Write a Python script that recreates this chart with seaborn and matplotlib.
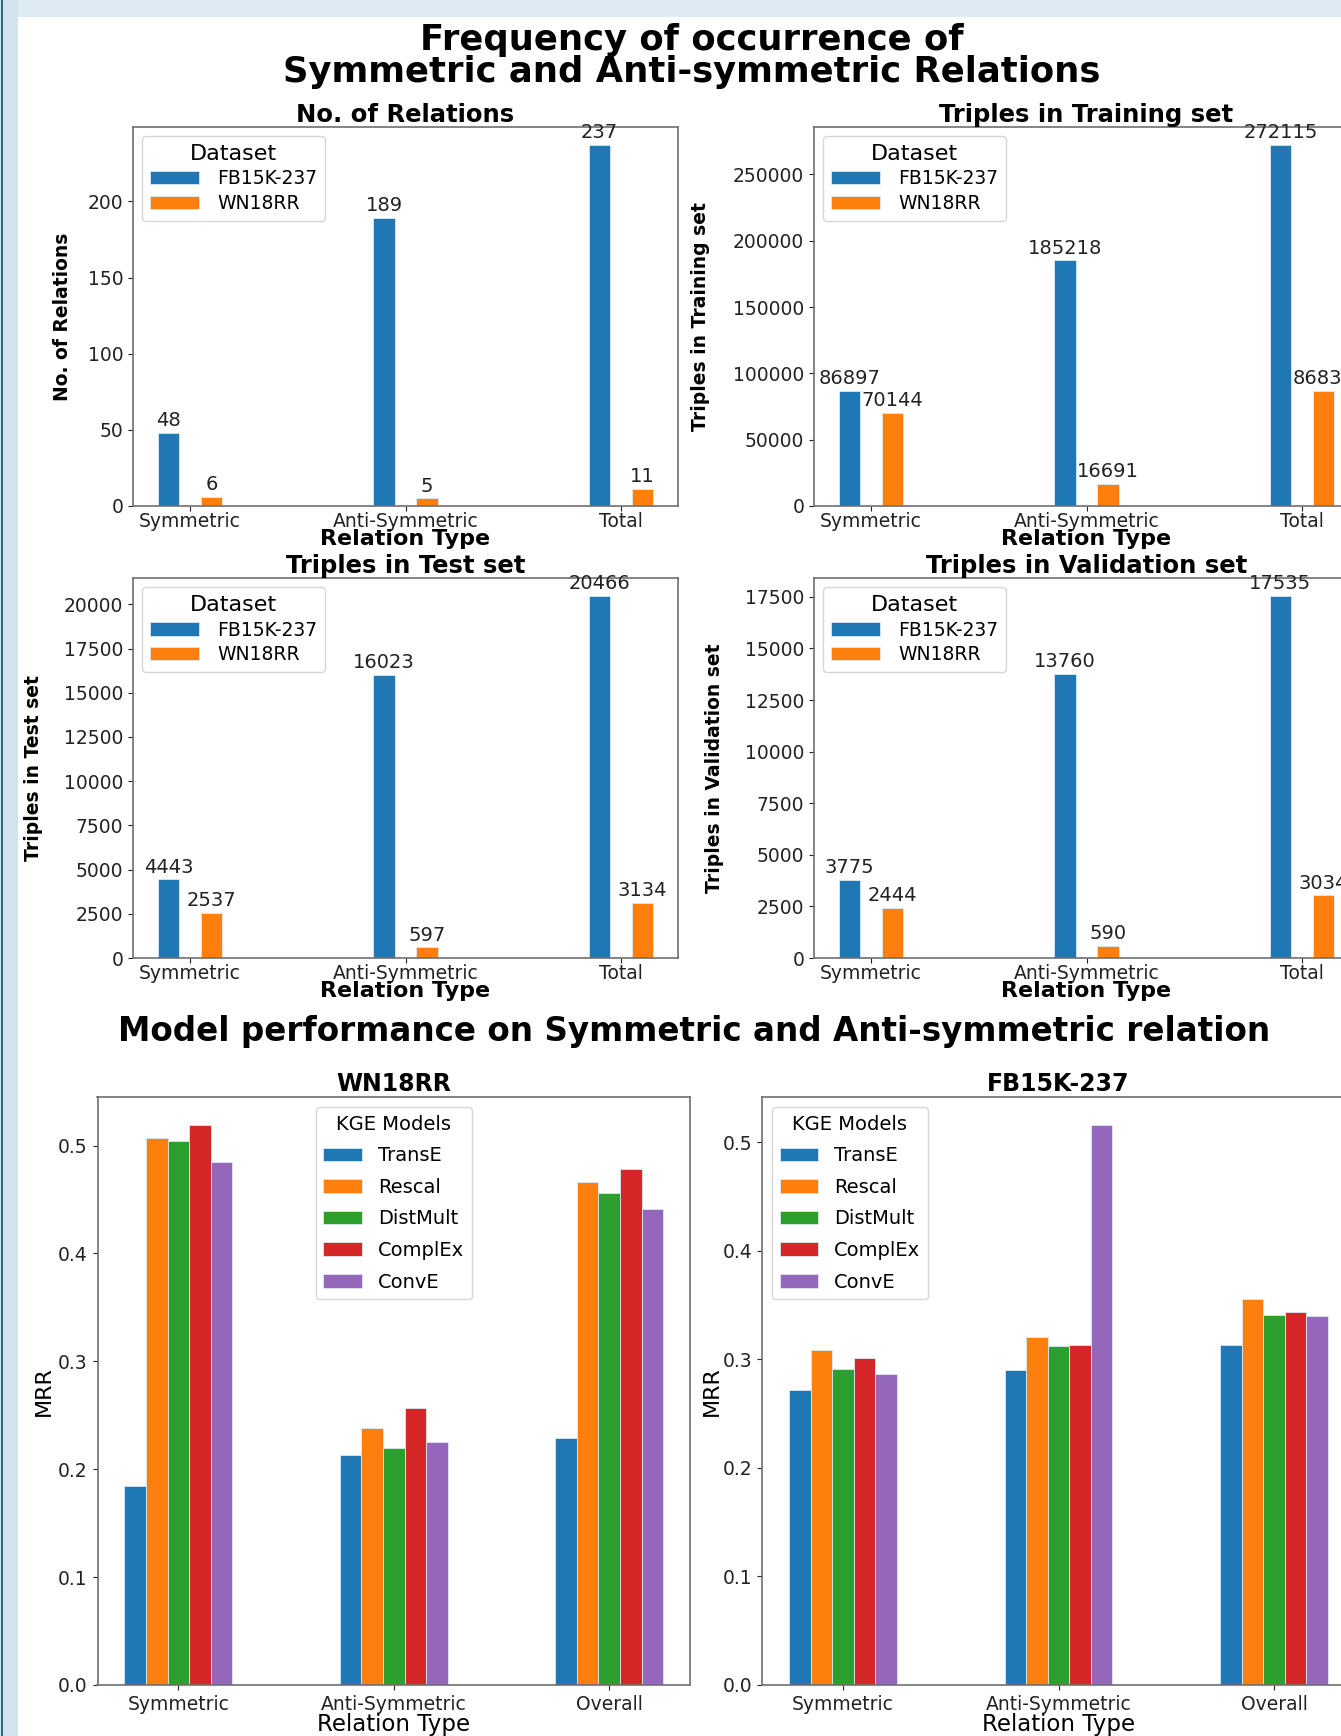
import matplotlib
matplotlib.use("Agg")
import matplotlib.pyplot as plt
import seaborn as sns
import pandas as pd
from matplotlib.patches import Rectangle

# Data
relation_types = ["Symmetric", "Anti-Symmetric", "Total"]
datasets = ["FB15K-237", "WN18RR"]

relations_fb = [48, 189, 237]
relations_wn = [6, 5, 11]
train_fb = [86897, 185218, 272115]
train_wn = [70144, 16691, 86835]
test_fb = [4443, 16023, 20466]
test_wn = [2537, 597, 3134]
valid_fb = [3775, 13760, 17535]
valid_wn = [2444, 590, 3034]

perf_types = ["Symmetric", "Anti-Symmetric", "Overall"]
models = ["TransE", "Rescal", "DistMult", "ComplEx", "ConvE"]

wn_transe = [0.184, 0.213, 0.229]
wn_rescal = [0.507, 0.238, 0.466]
wn_distmult = [0.504, 0.220, 0.456]
wn_complex = [0.519, 0.257, 0.478]
wn_conve = [0.485, 0.225, 0.441]

fb_transe = [0.272, 0.290, 0.313]
fb_rescal = [0.309, 0.321, 0.356]
fb_distmult = [0.291, 0.312, 0.341]
fb_complex = [0.301, 0.313, 0.344]
fb_conve = [0.287, 0.516, 0.340]

TAB10 = ["#1f77b4", "#ff7f0e", "#2ca02c", "#d62728", "#9467bd"]

W, H = 1341, 1736
DPI = 100


def px_rect(x0, y0, x1, y1):
    return [x0 / W, 1 - y1 / H, (x1 - x0) / W, (y1 - y0) / H]


def count_frame(fb, wn):
    rows = []
    for name, vals in zip(datasets, [fb, wn]):
        for rt, v in zip(relation_types, vals):
            rows.append({"Relation Type": rt, "Dataset": name, "value": v})
    return pd.DataFrame(rows)


def mrr_frame(series):
    rows = []
    for m, vals in zip(models, series):
        for rt, v in zip(perf_types, vals):
            rows.append({"Relation Type": rt, "KGE Models": m, "MRR": v})
    return pd.DataFrame(rows)


def style_spines(ax):
    for s in ax.spines.values():
        s.set_color("#6f6f6f")
        s.set_linewidth(1.2)


def count_plot(ax, fb, wn, title, ylabel, ylab_x):
    df = count_frame(fb, wn)
    sns.barplot(data=df, x="Relation Type", y="value", hue="Dataset",
                palette=TAB10[:2], saturation=1, width=0.4, gap=0.5, errorbar=None,
                edgecolor="#dbe8f3", linewidth=0.6, ax=ax)
    for cont in ax.containers:
        ax.bar_label(cont, fontsize=14, color="#222222", padding=2)
    ax.set_xlim(-0.265, 2.265)
    ax.set_title(title, fontsize=17.5, fontweight="bold", pad=3)
    ax.set_ylabel(ylabel, fontsize=13.5, fontweight="bold")
    ax.set_xlabel("Relation Type", fontsize=16, fontweight="bold")
    ax.yaxis.set_label_coords(ylab_x, 0.5)
    ax.yaxis.label.set_verticalalignment("center")
    ax.xaxis.set_label_coords(0.5, -0.088)
    ax.xaxis.label.set_verticalalignment("center")
    ax.tick_params(axis="both", labelsize=13.5, colors="#222222")
    ax.tick_params(axis="x", pad=1)
    ax.legend(title="Dataset", loc="upper left", fontsize=13.5, title_fontsize=16,
              labelspacing=0.3, handlelength=2.6, handletextpad=1.0)
    style_spines(ax)


def mrr_plot(ax, series, title, legend_loc, ylab_x):
    df = mrr_frame(series)
    sns.barplot(data=df, x="Relation Type", y="MRR", hue="KGE Models",
                palette=TAB10, saturation=1, width=0.5, errorbar=None,
                edgecolor="#dbe8f3", linewidth=0.6, ax=ax)
    ax.set_xlim(-0.375, 2.375)
    ax.set_title(title, fontsize=17, fontweight="bold", pad=4)
    ax.set_ylabel("MRR", fontsize=16)
    ax.set_xlabel("Relation Type", fontsize=16.5)
    ax.yaxis.set_label_coords(ylab_x, 0.5)
    ax.yaxis.label.set_verticalalignment("center")
    ax.xaxis.set_label_coords(0.5, -0.068)
    ax.xaxis.label.set_verticalalignment("center")
    ax.set_yticks([0.0, 0.1, 0.2, 0.3, 0.4, 0.5])
    ax.tick_params(axis="both", labelsize=13.5, colors="#222222")
    ax.legend(title="KGE Models", loc=legend_loc, fontsize=14, title_fontsize=14,
              labelspacing=0.65)
    style_spines(ax)


fig = plt.figure(figsize=(W / DPI, H / DPI), dpi=DPI)

# screenshot border
fig.patches.append(Rectangle((0, 1 - 17 / H), 1, 17 / H, transform=fig.transFigure,
                             facecolor="#deebf4", edgecolor="none", zorder=0))
fig.patches.append(Rectangle((0, 0), 18 / W, 1, transform=fig.transFigure,
                             facecolor="#d3e3ed", edgecolor="none", zorder=0))
fig.patches.append(Rectangle((1 / W, 0), 2 / W, 1, transform=fig.transFigure,
                             facecolor="#1f6f8b", edgecolor="none", zorder=1))

ax_rel = fig.add_axes(px_rect(133, 127, 678, 506))
ax_train = fig.add_axes(px_rect(814, 127, 1359, 506))
ax_test = fig.add_axes(px_rect(133, 578, 678, 958))
ax_valid = fig.add_axes(px_rect(814, 578, 1359, 958))
ax_wn = fig.add_axes(px_rect(97.5, 1097, 690, 1685))
ax_fb = fig.add_axes(px_rect(762, 1097, 1355, 1685))

count_plot(ax_rel, relations_fb, relations_wn, "No. of Relations", "No. of Relations", -0.130)
count_plot(ax_train, train_fb, train_wn, "Triples in Training set", "Triples in Training set", -0.209)
count_plot(ax_test, test_fb, test_wn, "Triples in Test set", "Triples in Test set", -0.182)
count_plot(ax_valid, valid_fb, valid_wn, "Triples in Validation set", "Triples in Validation set", -0.183)

mrr_plot(ax_wn, [wn_transe, wn_rescal, wn_distmult, wn_complex, wn_conve],
         "WN18RR", "upper center", -0.090)
mrr_plot(ax_fb, [fb_transe, fb_rescal, fb_distmult, fb_complex, fb_conve],
         "FB15K-237", "upper left", -0.084)

fig.text(692 / W, 1 - 56 / H, "Frequency of occurrence of\nSymmetric and Anti-symmetric Relations",
         ha="center", va="center", fontsize=25.5, fontweight="bold", linespacing=0.95)
fig.text(694 / W, 1 - 1031 / H, "Model performance on Symmetric and Anti-symmetric relation",
         ha="center", va="center", fontsize=23.5, fontweight="bold")

fig.savefig("out.png", dpi=DPI)
